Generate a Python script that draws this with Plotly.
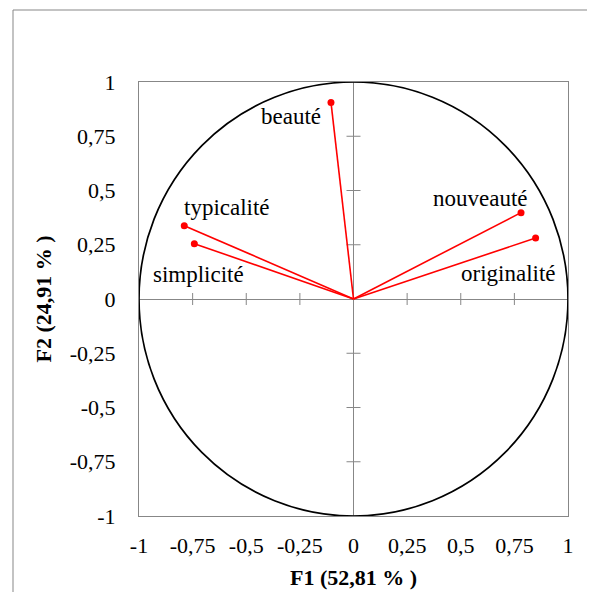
import plotly.graph_objects as go

# ---- data ----
variables = ["beauté", "typicalité", "simplicité", "nouveauté", "originalité"]
f1_values = [-0.105, -0.789, -0.742, 0.781, 0.849]
f2_values = [0.906, 0.338, 0.255, 0.398, 0.281]

tick_values = [-1, -0.75, -0.5, -0.25, 0, 0.25, 0.5, 0.75, 1]
tick_labels = ["-1", "-0,75", "-0,5", "-0,25", "0", "0,25", "0,5", "0,75", "1"]

x_title = "<b>F1 (52,81 % )</b>"
y_title = "<b>F2 (24,91 % )</b>"

# label placement (style): xanchor, xshift, yshift
label_style = {
    "beauté": ("right", -8, -14),
    "typicalité": ("left", -2, 18),
    "simplicité": ("center", 4, -31),
    "nouveauté": ("right", 9, 14),
    "originalité": ("right", 22, -35),
}

FONT = "Liberation Serif"
GRAY = "#878787"
RED = "#ff0000"

# plot area in page pixels (page has an 8px body offset)
L, R, T, B = 131, 35, 74, 84
PW, PH = 595 - L - R, 592 - T - B

fig = go.Figure()

# vectors from the origin
for name, fx, fy in zip(variables, f1_values, f2_values):
    fig.add_trace(go.Scatter(
        x=[0, fx], y=[0, fy], mode="lines",
        line=dict(color=RED, width=1.6), showlegend=False, hoverinfo="skip"))

fig.add_trace(go.Scatter(
    x=f1_values, y=f2_values, mode="markers",
    marker=dict(color=RED, size=7), showlegend=False, text=variables))

# unit circle
fig.add_shape(type="circle", xref="x", yref="y", x0=-1, y0=-1, x1=1, y1=1,
              line=dict(color="black", width=1.7), layer="above")

# cross tick marks on the zero axes
for tv in tick_values:
    if tv == 0:
        continue
    fig.add_shape(type="line", xref="x", yref="y", x0=tv, x1=tv,
                  ysizemode="pixel", yanchor=0, y0=-6, y1=6,
                  line=dict(color=GRAY, width=1), layer="below")
    fig.add_shape(type="line", xref="x", yref="y", y0=tv, y1=tv,
                  xsizemode="pixel", xanchor=0, x0=-7, x1=7,
                  line=dict(color=GRAY, width=1), layer="below")

for name, fx, fy in zip(variables, f1_values, f2_values):
    xa, xs, ys = label_style[name]
    fig.add_annotation(x=fx, y=fy, text=name, showarrow=False,
                       xanchor=xa, yanchor="middle", xshift=xs, yshift=ys,
                       font=dict(family=FONT, size=23, color="black"))

# outer chart-area border (extends beyond the frame)
fig.add_shape(type="rect", xref="paper", yref="paper",
              x0=(5 - L) / PW, x1=1.3, y0=-0.4, y1=(PH + T - 2) / PH,
              line=dict(color=GRAY, width=1), layer="below")

common = dict(range=[-1, 1], showgrid=False, fixedrange=True)

fig.update_layout(
    width=595, height=592,
    margin=dict(l=L, r=R, t=T, b=B),
    paper_bgcolor="white", plot_bgcolor="white",
    font=dict(family=FONT, size=22, color="black"),
    xaxis=dict(**common, tickvals=tick_values, ticktext=tick_labels, ticks="",
               showline=True, mirror=True, linecolor=GRAY, linewidth=1,
               zeroline=True, zerolinecolor=GRAY, zerolinewidth=1,
               ticklabelstandoff=10,
               title=dict(text=x_title, standoff=12, font=dict(size=22))),
    yaxis=dict(**common, tickvals=tick_values, ticktext=tick_labels, ticks="",
               showline=True, mirror=True, linecolor=GRAY, linewidth=1,
               zeroline=True, zerolinecolor=GRAY, zerolinewidth=1,
               ticklabelstandoff=18,
               title=dict(text=y_title, standoff=12, font=dict(size=22))),
)

fig.write_html("out.html")
